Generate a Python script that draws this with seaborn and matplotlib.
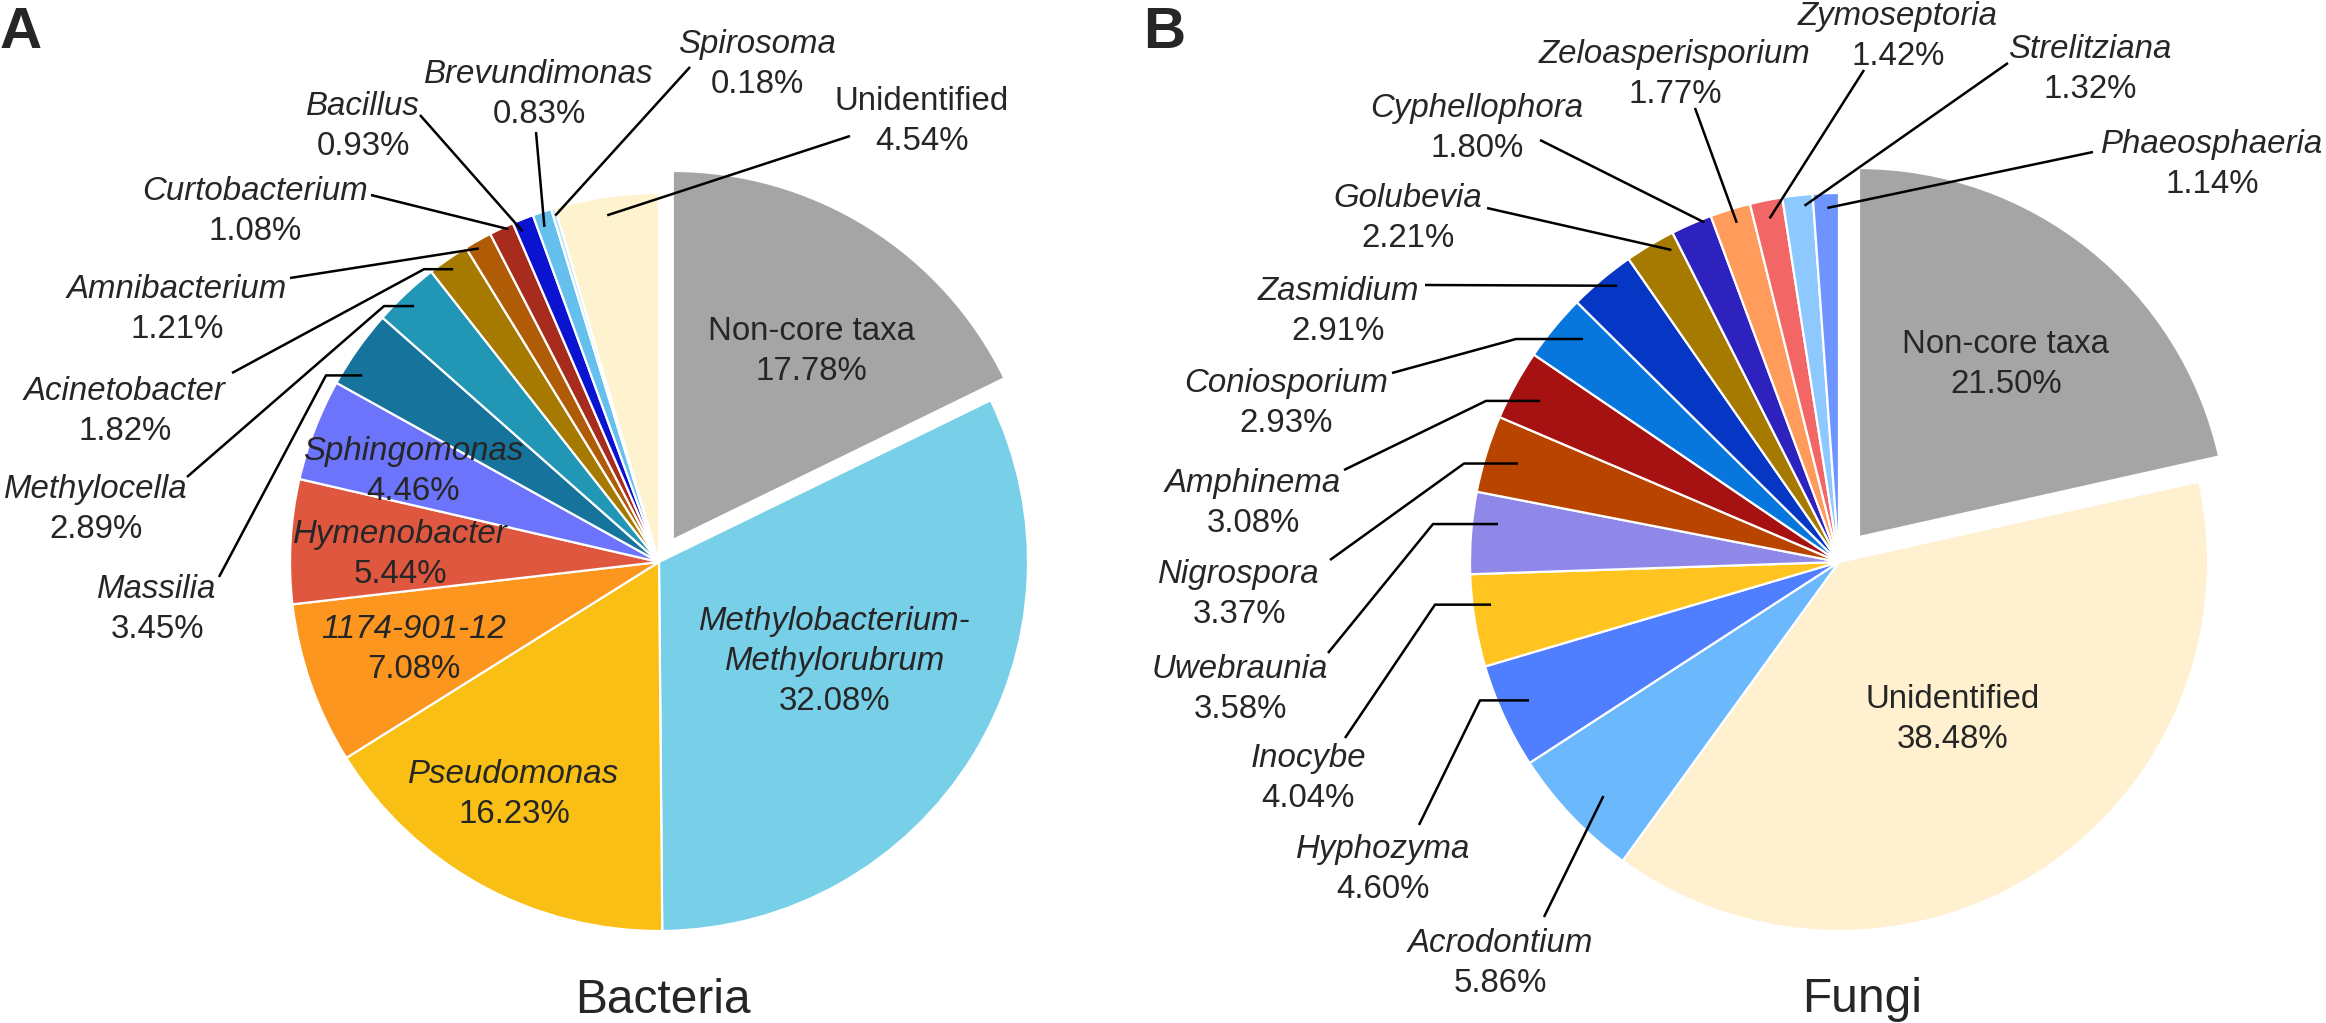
import math
import matplotlib
matplotlib.use("Agg")
import matplotlib.pyplot as plt
import seaborn as sns

# ---------------- data ----------------
bac_names = ["Non-core taxa", "Methylobacterium-\nMethylorubrum", "Pseudomonas", "1174-901-12",
             "Hymenobacter", "Sphingomonas", "Massilia", "Methylocella", "Acinetobacter",
             "Amnibacterium", "Curtobacterium", "Bacillus", "Brevundimonas", "Spirosoma",
             "Unidentified"]
bac_values = [17.78, 32.08, 16.23, 7.08, 5.44, 4.46, 3.45, 2.89, 1.82, 1.21, 1.08, 0.93,
              0.83, 0.18, 4.54]
bac_colors = ["#A5A5A5", "#78CFE8", "#FABF14", "#FC961F", "#E0573F", "#6C74FC", "#16739C",
              "#2196B5", "#A67A00", "#B05C07", "#A82C1D", "#0A14D0", "#65C0EE", "#B5E3F8",
              "#FFF2CE"]
bac_italic = [False, True, True, True, True, True, True, True, True, True, True, True, True,
              True, False]

fun_names = ["Non-core taxa", "Unidentified", "Acrodontium", "Hyphozyma", "Inocybe",
             "Uwebraunia", "Nigrospora", "Amphinema", "Coniosporium", "Zasmidium",
             "Golubevia", "Cyphellophora", "Zeloasperisporium", "Zymoseptoria",
             "Strelitziana", "Phaeosphaeria"]
fun_values = [21.50, 38.48, 5.86, 4.60, 4.04, 3.58, 3.37, 3.08, 2.93, 2.91, 2.21, 1.80,
              1.77, 1.42, 1.32, 1.14]
fun_colors = ["#A5A5A5", "#FFF0CF", "#6BB8FC", "#4F7EFF", "#FFC41F", "#8F88E8", "#B84400",
              "#A61212", "#0777DE", "#0536C4", "#A67A00", "#2E22BF", "#FF9C5C", "#F26666",
              "#8DC8FF", "#6E95FF"]
fun_italic = [False, False] + [True] * 14

# ---------------- layout (pixels, y downward) ----------------
W, H = 2326, 1023
R = 369
bac_center = (659, 562)
fun_center = (1839, 562)
bac_explode_px = 26
fun_explode_px = 32

# label: (center x, first-line baseline y)
bac_label_pos = {
    "Non-core taxa": (811, 340), "Methylobacterium-\nMethylorubrum": (835, 630),
    "Pseudomonas": (514, 783), "1174-901-12": (414, 638), "Hymenobacter": (400, 543),
    "Sphingomonas": (413, 460), "Massilia": (157, 598), "Methylocella": (96, 498),
    "Acinetobacter": (125, 400), "Amnibacterium": (177, 298), "Curtobacterium": (255, 200),
    "Bacillus": (363, 115), "Brevundimonas": (539, 83), "Spirosoma": (757, 53),
    "Unidentified": (922, 110),
}
fun_label_pos = {
    "Non-core taxa": (2006, 353), "Unidentified": (1953, 708), "Acrodontium": (1500, 952),
    "Hyphozyma": (1383, 858), "Inocybe": (1308, 767), "Uwebraunia": (1240, 678),
    "Nigrospora": (1239, 583), "Amphinema": (1253, 492), "Coniosporium": (1286, 392),
    "Zasmidium": (1338, 300), "Golubevia": (1408, 207), "Cyphellophora": (1477, 117),
    "Zeloasperisporium": (1675, 63), "Zymoseptoria": (1898, 25),
    "Strelitziana": (2090, 58), "Phaeosphaeria": (2212, 153),
}
# leader: text-side point, elbow x (or None), fraction within wedge, radius fraction
bac_leaders = {
    "Massilia": ((219, 577), 326, 0.25, 0.95),
    "Methylocella": ((187, 477), 384, 0.46, 0.96),
    "Acinetobacter": ((232, 373), 424, 0.46, 0.97),
    "Amnibacterium": ((290, 278), None, 0.39, 0.98),
    "Curtobacterium": ((371, 195), None, 0.74, 0.99),
    "Bacillus": ((420, 115), None, 0.27, 0.97),
    "Brevundimonas": ((536, 132), None, 0.37, 0.96),
    "Spirosoma": ((690, 67), None, 0.5, 0.98),
    "Unidentified": ((850, 136), None, 0.48, 0.95),
}
fun_leaders = {
    "Acrodontium": ((1544, 917), None, 0.44, 0.90),
    "Hyphozyma": ((1419, 825), 1480, 0.54, 0.92),
    "Inocybe": ((1345, 738), 1435, 0.65, 0.95),
    "Uwebraunia": ((1328, 653), 1433, 0.64, 0.93),
    "Nigrospora": ((1330, 560), 1464, 0.5, 0.91),
    "Amphinema": ((1344, 470), 1486, 0.47, 0.92),
    "Coniosporium": ((1392, 373), 1516, 0.65, 0.92),
    "Zasmidium": ((1425, 285), None, 0.62, 0.96),
    "Golubevia": ((1487, 208), None, 0.82, 0.96),
    "Cyphellophora": ((1540, 140), None, 0.8, 0.99),
    "Zeloasperisporium": ((1695, 108), None, 0.56, 0.96),
    "Zymoseptoria": ((1864, 70), None, 0.5, 0.95),
    "Strelitziana": ((2008, 63), None, 0.7, 0.97),
    "Phaeosphaeria": ((2093, 152), None, 0.54, 0.96),
}

LABEL_PT = 23.8
LINE_PX = 40
TITLE_PT = 34.5
PANEL_PT = 42

sns.set_theme(style="white")
plt.rcParams["font.family"] = ["Liberation Sans", "DejaVu Sans"]

fig = plt.figure(figsize=(W / 100, H / 100), dpi=100)
fig.patch.set_facecolor("white")

overlay = fig.add_axes([0, 0, 1, 1], zorder=10)
overlay.set_xlim(0, W)
overlay.set_ylim(H, 0)
overlay.set_axis_off()
overlay.patch.set_alpha(0)


def draw_pie(center, values, colors, names, italic, label_pos, leaders, explode_px, title):
    cx, cy = center
    side = 2.5 * R
    ax = fig.add_axes([(cx - side / 2) / W, (H - cy - side / 2) / H, side / W, side / H])
    explode = [explode_px / R] + [0] * (len(values) - 1)
    wedges, _ = ax.pie(values, colors=sns.color_palette(colors), explode=explode,
                       startangle=90, counterclock=False, radius=1,
                       wedgeprops=dict(edgecolor="white", linewidth=1.6))
    ax.set_xlim(-1.25, 1.25)
    ax.set_ylim(-1.25, 1.25)
    ax.set_aspect("equal")
    ax.set_axis_off()

    for w, name, val, it in zip(wedges, names, values, italic):
        x, by = label_pos[name]
        lines = name.split("\n")
        for i, ln in enumerate(lines):
            overlay.text(x, by + i * LINE_PX, ln, ha="center", va="baseline",
                         fontsize=LABEL_PT, style="italic" if it else "normal")
        overlay.text(x, by + len(lines) * LINE_PX, f"{val:.2f}%", ha="center",
                     va="baseline", fontsize=LABEL_PT)
        if name in leaders:
            (tx, ty), ex, f, rf = leaders[name]
            th = math.radians(w.theta2 - f * (w.theta2 - w.theta1))
            px = cx + rf * R * math.cos(th)
            py = cy - rf * R * math.sin(th)
            if ex is None:
                xs, ys = [tx, px], [ty, py]
            else:
                xs, ys = [tx, ex, px], [ty, py, py]
            overlay.plot(xs, ys, color="black", lw=1.8, solid_capstyle="butt")
    overlay.text(title[1], title[2], title[0], ha="center", va="baseline",
                 fontsize=TITLE_PT)


draw_pie(bac_center, bac_values, bac_colors, bac_names, bac_italic, bac_label_pos,
         bac_leaders, bac_explode_px, ("Bacteria", 663, 1013))
draw_pie(fun_center, fun_values, fun_colors, fun_names, fun_italic, fun_label_pos,
         fun_leaders, fun_explode_px, ("Fungi", 1862, 1012))

overlay.text(0, 48, "A", ha="left", va="baseline", fontsize=PANEL_PT, fontweight="bold")
overlay.text(1143, 48, "B", ha="left", va="baseline", fontsize=PANEL_PT, fontweight="bold")

fig.savefig("out.png", dpi=100, facecolor="white")
